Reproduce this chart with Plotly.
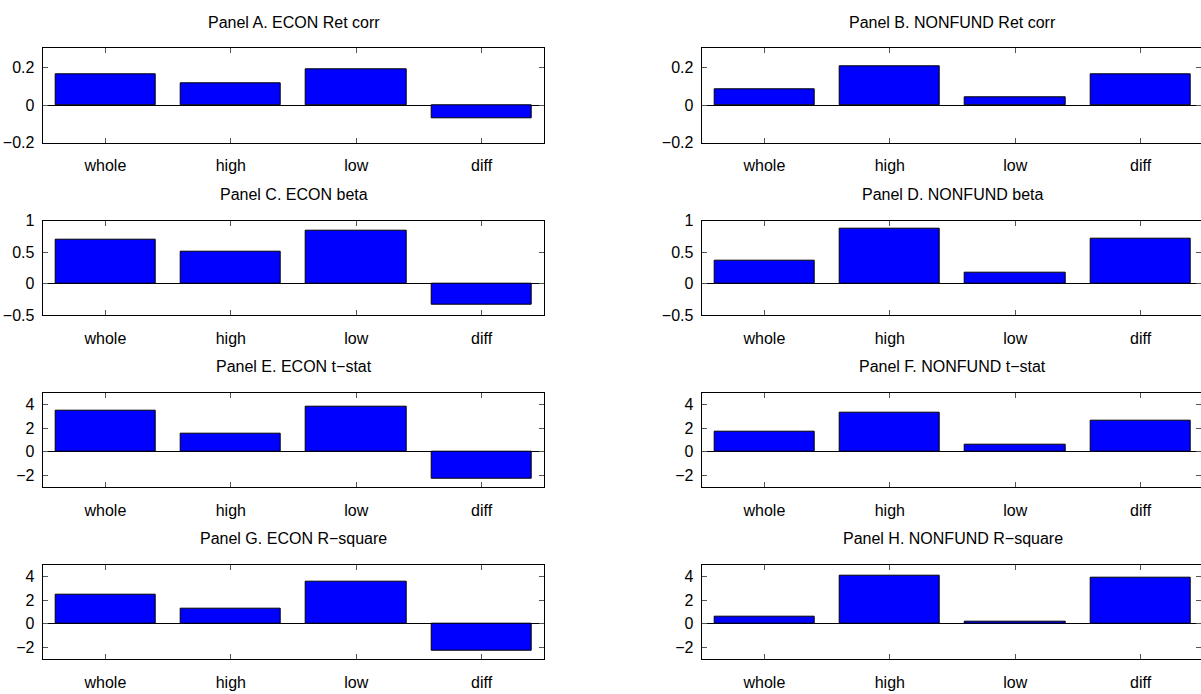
import plotly.graph_objects as go

W, H = 1201, 694

categories = ["whole", "high", "low", "diff"]

titles = [
    "Panel A. ECON Ret corr", "Panel B. NONFUND Ret corr",
    "Panel C. ECON beta", "Panel D. NONFUND beta",
    "Panel E. ECON t\u2212stat", "Panel F. NONFUND t\u2212stat",
    "Panel G. ECON R\u2212square", "Panel H. NONFUND R\u2212square",
]

econ_ret_corr = [0.161, 0.117, 0.189, -0.072]
nonfund_ret_corr = [0.083, 0.203, 0.041, 0.164]
econ_beta = [0.705, 0.51, 0.837, -0.33]
nonfund_beta = [0.358, 0.879, 0.174, 0.711]
econ_tstat = [3.49, 1.57, 3.83, -2.31]
nonfund_tstat = [1.74, 3.29, 0.63, 2.60]
econ_rsq = [2.50, 1.31, 3.52, -2.24]
nonfund_rsq = [0.625, 4.09, 0.17, 3.92]

series = [econ_ret_corr, nonfund_ret_corr, econ_beta, nonfund_beta,
          econ_tstat, nonfund_tstat, econ_rsq, nonfund_rsq]

yranges_rows = [[-0.2, 0.3], [-0.5, 1.0], [-3, 5], [-3, 5]]
ytickvals_rows = [[-0.2, 0, 0.2], [-0.5, 0, 0.5, 1], [-2, 0, 2, 4], [-2, 0, 2, 4]]
yticktext_rows = [["\u22120.2", "0", "0.2"], ["\u22120.5", "0", "0.5", "1"],
                  ["\u22122", "0", "2", "4"], ["\u22122", "0", "2", "4"]]

# layout in pixels
col_left = [42.7, 701.7]
col_unit = 125.4            # pixels per category unit
row_top = [48.3, 220.7, 392.7, 564.7]
row_h = 94.5

FONT = "Liberation Sans, Arial, Helvetica, sans-serif"
FS = 16

fig = go.Figure()
annotations = []

for i, vals in enumerate(series):
    r, c = divmod(i, 2)
    n = i + 1
    xname = "x" if n == 1 else f"x{n}"
    yname = "y" if n == 1 else f"y{n}"
    x0 = col_left[c]
    x1_full = x0 + 4 * col_unit
    x1 = min(x1_full, W)
    xmax = 0.5 + (x1 - x0) / col_unit
    y_top = row_top[r]
    y_bot = y_top + row_h

    fig.add_trace(go.Bar(
        x=[1, 2, 3, 4], y=vals, width=0.8,
        marker=dict(color="#0000FF", line=dict(color="black", width=1)),
        xaxis=xname, yaxis=yname, showlegend=False, hoverinfo="y",
    ))

    axis_common = dict(
        showline=True, linecolor="black", linewidth=1.2, mirror="allticks",
        ticks="inside", ticklen=5, tickcolor="#555555", tickwidth=1,
        showgrid=False, tickfont=dict(family=FONT, size=FS, color="black"),
        layer="above traces", automargin=False,
    )
    fig.layout[f"xaxis{'' if n == 1 else n}"] = dict(
        axis_common,
        domain=[x0 / W, x1 / W],
        range=[0.5, xmax],
        tickvals=[1, 2, 3, 4], ticktext=categories,
        anchor=yname, zeroline=False, fixedrange=True,
        ticklabelstandoff=8,
    )
    fig.layout[f"yaxis{'' if n == 1 else n}"] = dict(
        axis_common,
        domain=[1 - y_bot / H, 1 - y_top / H],
        range=yranges_rows[r],
        tickvals=ytickvals_rows[r], ticktext=yticktext_rows[r],
        anchor=xname, zeroline=True, zerolinecolor="black", zerolinewidth=1,
        fixedrange=True, ticklabelstandoff=4,
    )
    annotations.append(dict(
        text=titles[i], xref="paper", yref="paper",
        x=(x0 + x1_full) / 2 / W, y=1 - (y_top - 26) / H,
        xanchor="center", yanchor="middle", showarrow=False,
        font=dict(family=FONT, size=FS, color="black"),
    ))

fig.update_layout(
    template="none",
    width=W, height=H,
    margin=dict(l=0, r=0, t=0, b=0, pad=0),
    paper_bgcolor="white", plot_bgcolor="white",
    annotations=annotations, bargap=0,
    font=dict(family=FONT, size=FS, color="black"),
)

fig.write_html("out.html", config={"displayModeBar": False},
               post_script="document.body.style.margin='0';document.body.style.overflow='hidden';")
